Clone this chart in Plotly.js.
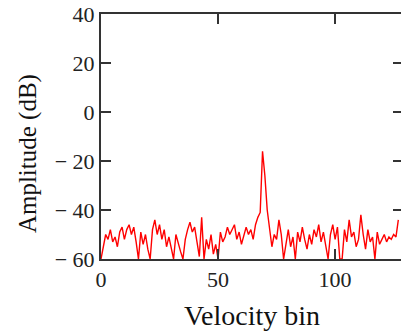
<!DOCTYPE html>
<html><head><meta charset="utf-8">
<script src="https://cdn.plot.ly/plotly-3.0.1.min.js"></script>
<style>html,body{margin:0;padding:0;background:#fff;overflow:hidden}</style>
</head><body><div id="chart"></div>
<script>
const velocityBin = Array.from({length:128},(_, i)=>i);
const amplitudeDb = [
-60,-55,-50,-52,-48,-53,-51,-55,-49,-47,-52,-48,-46,-50,-47,-53,
-60,-49,-54,-50,-56,-60,-48,-44,-50,-46,-52,-48,-55,-51,-56,-60,
-50,-54,-57,-60,-52,-48,-45,-49,-47,-53,-59,-43,-60,-52,-56,-50,
-58,-54,-60,-49,-53,-51,-47,-50,-48,-46,-52,-49,-54,-51,-47,-50,
-48,-52,-46,-43,-41,-16,-26,-40,-48,-55,-50,-52,-44,-50,-60,-53,
-48,-55,-51,-60,-49,-53,-47,-52,-56,-50,-54,-48,-51,-46,-53,-49,
-55,-60,-50,-46,-52,-47,-60,-60,-48,-53,-44,-51,-49,-55,-52,-42,
-50,-56,-48,-53,-51,-60,-49,-54,-52,-50,-53,-51,-52,-50,-51,-44];
const xTickVals = [0,50,100];
const xTickText = ['0','50','100'];
const yTickVals = [40,20,0,-20,-40,-60];
const yTickText = ['40','20','0','\u2212 20','\u2212 40','\u2212 60'];
const xTitle = 'Velocity bin';
const yTitle = 'Amplitude (dB)';

const serif = 'Liberation Serif, Times New Roman, serif';
const trace = {x: velocityBin, y: amplitudeDb, type:'scatter', mode:'lines',
  line:{color:'#ff0000', width:1.4}, hoverinfo:'skip'};
const layout = {
  width:403, height:335,
  margin:{l:101, r:0, t:14, b:76, pad:0},
  paper_bgcolor:'#fff', plot_bgcolor:'#fff', showlegend:false,
  xaxis:{range:[0,129], tickvals:xTickVals, ticktext:xTickText,
    ticks:'inside', ticklen:10, tickwidth:2, tickcolor:'#333',
    showline:true, linewidth:2, linecolor:'#333', mirror:'ticks',
    showgrid:false, zeroline:false,
    tickfont:{family:serif, size:22, color:'#222'},
    title:{text:xTitle, font:{family:serif, size:28, color:'#111'}, standoff:14}},
  yaxis:{range:[-60,40], tickvals:yTickVals, ticktext:yTickText,
    ticks:'inside', ticklen:10, tickwidth:2, tickcolor:'#333',
    showline:true, linewidth:2, linecolor:'#333', mirror:'ticks',
    showgrid:false, zeroline:false,
    tickfont:{family:serif, size:22, color:'#222'}},
  annotations:[{text:yTitle, xref:'paper', yref:'paper', x:-0.242, y:0.432,
    xanchor:'center', yanchor:'middle', textangle:-90, showarrow:false,
    font:{family:serif, size:25, color:'#111'}}]
};
Plotly.newPlot('chart',[trace],layout,{staticPlot:true, displayModeBar:false});
</script></body></html>
